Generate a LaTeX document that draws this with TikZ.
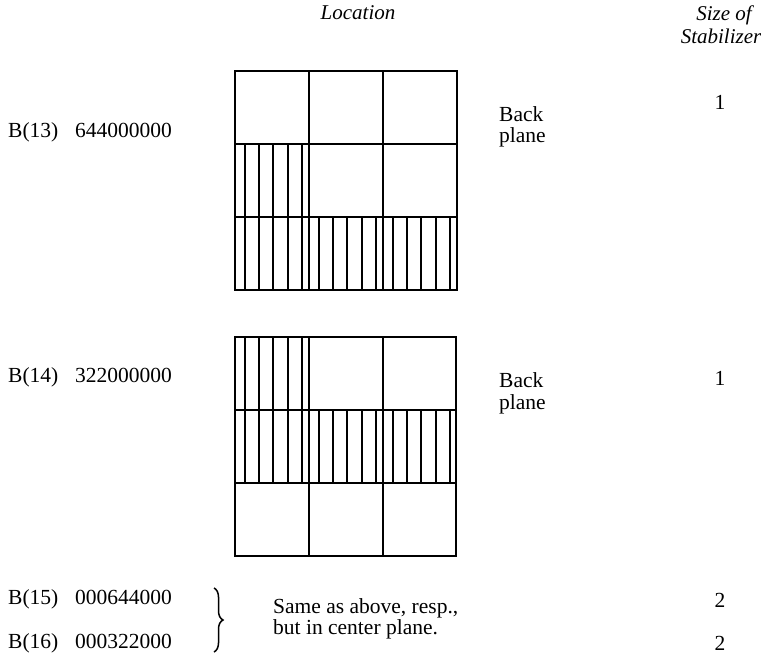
\documentclass[tikz,border=0pt]{standalone}
\usepackage{fontspec}
\setmainfont{Liberation Serif}
\usetikzlibrary{decorations.pathreplacing}
\tikzset{
  lab/.style={font=\fontsize{21.5}{24}\selectfont, inner sep=0pt, anchor=base west},
  head/.style={font=\fontsize{21}{24}\selectfont\itshape, inner sep=0pt, anchor=base},
  gridline/.style={line width=2.2pt},
  hatchline/.style={line width=2pt},
}
\newcommand{\hatchcell}[2]{% x0, y0 of a 74x73 cell
  \foreach \k in {10,24,38,53,67}{\draw[hatchline] ({#1+\k},#2) -- ++(0,73);}}
\begin{document}
\begin{tikzpicture}[x=1pt,y=-1pt]
\useasboundingbox (0,0) rectangle (761,658);
% headings
\node[head] (loc) at (358,20) {Location};
\node[head] (size) at (724,21) {Size of};
\node[head] (stab) at (721,44) {Stabilizer};
% B(13)
\node[lab] (b13) at (8,138) {B(13)};
\node[lab] (c13) at (75,138) {644000000};
\node[lab] (back1) at (499,122) {Back};
\node[lab] (plane1) at (499,143) {plane};
\node[lab, anchor=base] (s13) at (720,110) {1};
% grid 1 : rows 71,144,217,290
\hatchcell{235}{144}
\hatchcell{235}{217}\hatchcell{309}{217}\hatchcell{383}{217}
\draw[gridline] (235,71) rectangle (457,290);
\draw[gridline] (309,71) -- (309,290) (383,71) -- (383,290)
  (235,144) -- (457,144) (235,217) -- (457,217);
% B(14)
\node[lab] (b14) at (8,382) {B(14)};
\node[lab] (c14) at (75,382) {322000000};
\node[lab] (back2) at (499,387) {Back};
\node[lab] (plane2) at (499,409) {plane};
\node[lab, anchor=base] (s14) at (720,385) {1};
% grid 2 : rows 337,410,483,556
\hatchcell{235}{337}
\hatchcell{235}{410}\hatchcell{309}{410}\hatchcell{383}{410}
\draw[gridline] (235,337) rectangle (456,556);
\draw[gridline] (309,337) -- (309,556) (383,337) -- (383,556)
  (235,410) -- (456,410) (235,483) -- (456,483);
% B(15), B(16)
\node[lab] (b15) at (8,604) {B(15)};
\node[lab] (c15) at (75,604) {000644000};
\node[lab] (b16) at (8,648) {B(16)};
\node[lab] (c16) at (75,648) {000322000};
\coordinate (bt) at (214,588);
\coordinate (bb) at (214,652);
\draw[line width=1.5pt, decorate, decoration={brace, amplitude=9pt}] (bt) -- (bb);
\node[lab] (same1) at (273,613) {Same as above, resp.,};
\node[lab] (same2) at (273,634) {but in center plane.};
\node[lab, anchor=base] (s15) at (720,607) {2};
\node[lab, anchor=base] (s16) at (720,650) {2};
\end{tikzpicture}
\end{document}
